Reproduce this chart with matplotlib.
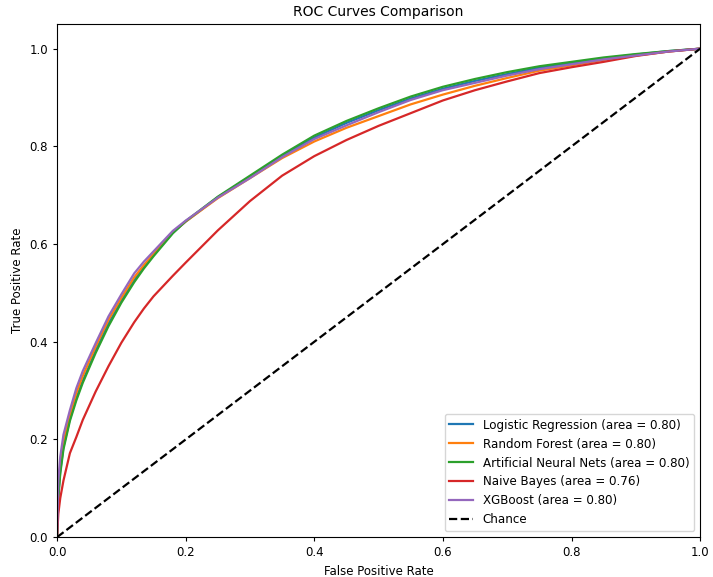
import matplotlib
matplotlib.use("Agg")
import matplotlib.pyplot as plt

# false positive rate grid shared by all curves
fpr = [0, 0.002, 0.005, 0.01, 0.02, 0.03, 0.04, 0.06, 0.08, 0.1, 0.12, 0.135, 0.15, 0.18, 0.2,
       0.25, 0.3, 0.35, 0.4, 0.45, 0.5, 0.55, 0.6, 0.65, 0.7, 0.75, 0.8, 0.85, 0.9, 0.95, 1.0]

tpr_lr = [0, 0.085, 0.135, 0.185, 0.242, 0.285, 0.32, 0.382, 0.437, 0.484, 0.526, 0.553, 0.578, 0.623, 0.646,
          0.696, 0.738, 0.78, 0.818, 0.848, 0.874, 0.898, 0.918, 0.934, 0.948, 0.961, 0.971, 0.98, 0.988, 0.995, 1.0]
tpr_rf = [0, 0.095, 0.148, 0.195, 0.25, 0.295, 0.33, 0.39, 0.445, 0.49, 0.532, 0.557, 0.58, 0.624, 0.646,
          0.694, 0.735, 0.776, 0.81, 0.838, 0.862, 0.886, 0.906, 0.924, 0.94, 0.955, 0.966, 0.977, 0.986, 0.994, 1.0]
tpr_ann = [0, 0.08, 0.13, 0.18, 0.238, 0.28, 0.316, 0.377, 0.432, 0.48, 0.522, 0.55, 0.575, 0.622, 0.647,
           0.697, 0.74, 0.783, 0.822, 0.852, 0.878, 0.902, 0.922, 0.938, 0.952, 0.964, 0.973, 0.982, 0.989, 0.995, 1.0]
tpr_nb = [0, 0.048, 0.08, 0.116, 0.172, 0.205, 0.24, 0.298, 0.35, 0.398, 0.44, 0.468, 0.493, 0.535, 0.562,
          0.628, 0.688, 0.74, 0.78, 0.813, 0.842, 0.868, 0.894, 0.915, 0.933, 0.95, 0.962, 0.973, 0.985, 0.994, 1.0]
tpr_xgb = [0, 0.116, 0.165, 0.21, 0.26, 0.305, 0.34, 0.397, 0.452, 0.497, 0.54, 0.564, 0.585, 0.627, 0.648,
           0.695, 0.735, 0.778, 0.815, 0.843, 0.87, 0.895, 0.915, 0.93, 0.945, 0.958, 0.968, 0.978, 0.986, 0.994, 1.0]

models = ["Logistic Regression", "Random Forest", "Artificial Neural Nets", "Naive Bayes", "XGBoost"]
aucs = [0.80, 0.80, 0.80, 0.76, 0.80]
curves = [tpr_lr, tpr_rf, tpr_ann, tpr_nb, tpr_xgb]

fig = plt.figure(figsize=(7.13, 5.77), dpi=100)
ax = fig.add_axes([0.080, 0.069, 0.902, 0.889])

for name, auc, tpr in zip(models, aucs, curves):
    ax.plot(fpr, tpr, lw=1.6, label="%s (area = %.2f)" % (name, auc))
ax.plot([0, 1], [0, 1], "k--", lw=1.6, label="Chance")

ax.set_xlim(0, 1)
ax.set_ylim(0, 1.05)
ax.set_xlabel("False Positive Rate", fontsize=8.5)
ax.set_ylabel("True Positive Rate", fontsize=8.5)
ax.set_title("ROC Curves Comparison", fontsize=10)
ax.tick_params(labelsize=8.5, length=3)
ax.legend(loc="lower right", fontsize=8.6)

fig.savefig("out.png")
